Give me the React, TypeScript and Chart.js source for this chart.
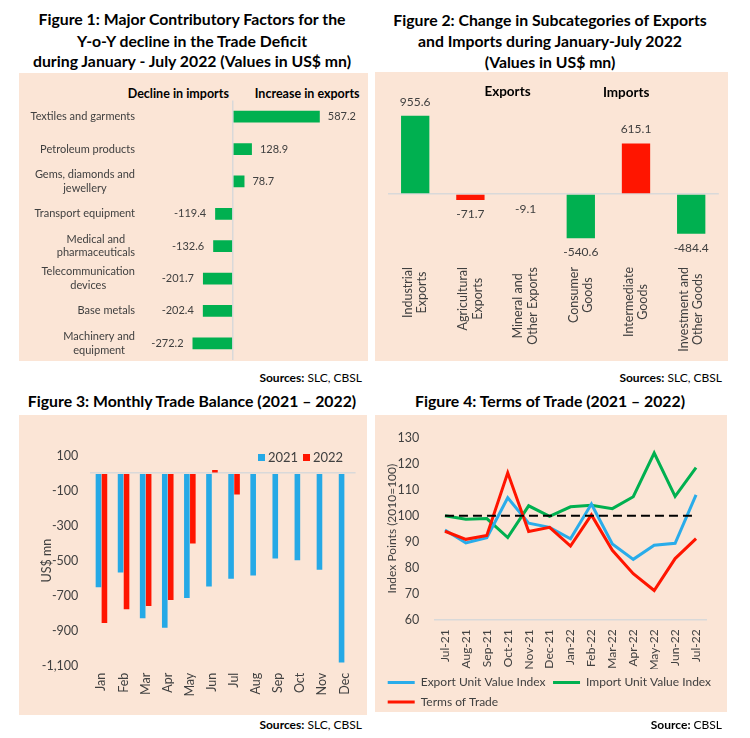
import React, { useEffect, useRef } from 'react';
import { Chart, registerables } from 'chart.js';

Chart.register(...registerables);

const FONT = 'Lato, "Noto Sans", sans-serif';
const TXT = '#404040';
const GREEN = '#00b050';
const RED = '#ff1500';
const BLUE = '#25a9e6';
const PEACH = '#fbe5d6';
const GRID = '#d9d9d9';
const CLEAR = 'rgba(0,0,0,0)';

Chart.defaults.font.family = FONT;
Chart.defaults.color = TXT;

// ---------- Figure 1 data ----------
const fig1Categories: (string | string[])[] = [
  'Textiles and garments',
  'Petroleum products',
  ['Gems, diamonds and', 'jewellery'],
  'Transport equipment',
  ['Medical and', 'pharmaceuticals'],
  ['Telecommunication', 'devices'],
  'Base metals',
  ['Machinery and', 'equipment'],
];
const fig1Values = [587.2, 128.9, 78.7, -119.4, -132.6, -201.7, -202.4, -272.2];

// ---------- Figure 2 data ----------
const fig2Categories: string[][] = [
  ['Industrial', 'Exports'],
  ['Agricultural', 'Exports'],
  ['Mineral and', 'Other Exports'],
  ['Consumer', 'Goods'],
  ['Intermediate', 'Goods'],
  ['Investment and', 'Other Goods'],
];
const fig2Values = [955.6, -71.7, -9.1, -540.6, 615.1, -484.4];
const fig2Colors = [GREEN, RED, RED, GREEN, RED, GREEN];

// ---------- Figure 3 data ----------
const fig3Months = ['Jan', 'Feb', 'Mar', 'Apr', 'May', 'Jun', 'Jul', 'Aug', 'Sep', 'Oct', 'Nov', 'Dec'];
const fig3Balance2021 = [-652, -568, -829, -883, -713, -648, -603, -584, -488, -498, -551, -1081];
const fig3Balance2022 = [-856, -778, -759, -725, -401, 19, -121, null, null, null, null, null];
const fig3YTicks = [100, 0, -100, -300, -500, -700, -900, -1100];

// ---------- Figure 4 data ----------
const fig4Months = ['Jul-21', 'Aug-21', 'Sep-21', 'Oct-21', 'Nov-21', 'Dec-21', 'Jan-22', 'Feb-22', 'Mar-22', 'Apr-22', 'May-22', 'Jun-22', 'Jul-22'];
const fig4ExportIndex = [94.5, 89.5, 91.5, 106.9, 97.1, 95.5, 91.1, 104.5, 89.1, 83.2, 88.6, 89.4, 108.0];
const fig4ImportIndex = [100.0, 98.6, 98.9, 91.6, 103.8, 99.7, 103.4, 104.0, 102.7, 107.3, 124.1, 107.4, 118.5];
const fig4TermsOfTrade = [94.0, 90.9, 92.4, 116.5, 93.9, 95.5, 88.3, 100.3, 86.7, 77.7, 71.2, 83.5, 91.2];
const fig4BaseLine = [100, 100, 100, 100, 100, 100, 100, 100, 100, 100, 100, 100, 100];

// ---------- plugins ----------
const fig1AxisLabels = {
  id: 'fig1AxisLabels',
  afterDraw(chart: any) {
    const { ctx } = chart;
    const ys = chart.scales.y;
    ctx.save();
    ctx.font = `11px ${FONT}`;
    ctx.fillStyle = TXT;
    ctx.textAlign = 'center';
    ctx.textBaseline = 'middle';
    const right = ys.right - 6;
    fig1Categories.forEach((lab, i) => {
      const lines = Array.isArray(lab) ? lab : [lab];
      const w = Math.max(...lines.map((l) => ctx.measureText(l).width));
      const cy = ys.getPixelForValue(i);
      lines.forEach((l, j) => ctx.fillText(l, right - w / 2, cy + (j - (lines.length - 1) / 2) * 13.3));
    });
    ctx.restore();
  },
};

const fig1ValueLabels = {
  id: 'fig1ValueLabels',
  afterDatasetsDraw(chart: any) {
    const { ctx } = chart;
    const meta = chart.getDatasetMeta(0);
    ctx.save();
    ctx.font = `11px ${FONT}`;
    ctx.fillStyle = TXT;
    ctx.textBaseline = 'middle';
    meta.data.forEach((el: any, i: number) => {
      const v = fig1Values[i];
      if (v >= 0) {
        ctx.textAlign = 'left';
        ctx.fillText(v.toFixed(1), el.x + 8, el.y);
      } else {
        ctx.textAlign = 'right';
        ctx.fillText(v.toFixed(1), el.x - 9, el.y);
      }
    });
    ctx.restore();
  },
};

const fig2AxisLabels = {
  id: 'fig2AxisLabels',
  afterDraw(chart: any) {
    const { ctx } = chart;
    const xs = chart.scales.x;
    const top = chart.chartArea.bottom + 6;
    ctx.save();
    ctx.font = `12.5px ${FONT}`;
    ctx.fillStyle = TXT;
    ctx.textAlign = 'center';
    ctx.textBaseline = 'middle';
    fig2Categories.forEach((lines, i) => {
      const w = Math.max(...lines.map((l) => ctx.measureText(l).width));
      const cx = xs.getPixelForValue(i);
      ctx.save();
      ctx.translate(cx, top + w / 2);
      ctx.rotate(-Math.PI / 2);
      lines.forEach((l, j) => ctx.fillText(l, 0, (j - (lines.length - 1) / 2) * 14.4));
      ctx.restore();
    });
    ctx.restore();
  },
};

const fig2ValueLabels = {
  id: 'fig2ValueLabels',
  afterDatasetsDraw(chart: any) {
    const { ctx } = chart;
    const meta = chart.getDatasetMeta(0);
    ctx.save();
    ctx.font = `12px ${FONT}`;
    ctx.fillStyle = TXT;
    ctx.textAlign = 'center';
    ctx.textBaseline = 'middle';
    meta.data.forEach((el: any, i: number) => {
      const v = fig2Values[i];
      ctx.fillText(v.toFixed(1), el.x, v >= 0 ? el.y - 14 : el.y + 14);
    });
    ctx.restore();
  },
};

// ---------- configs ----------
function fig1Config(): any {
  return {
    type: 'bar',
    data: {
      labels: fig1Categories,
      datasets: [{ data: fig1Values, backgroundColor: GREEN, barPercentage: 0.9, categoryPercentage: 0.4 }],
    },
    options: {
      indexAxis: 'y',
      animation: false,
      responsive: true,
      maintainAspectRatio: false,
      layout: { padding: { left: 0, right: 13, top: 27.5, bottom: 1.5 } },
      plugins: { legend: { display: false }, tooltip: { enabled: false } },
      scales: {
        x: {
          type: 'linear',
          min: -620,
          max: 825,
          ticks: { display: false },
          border: { display: false },
          grid: { color: (c: any) => (c.tick && c.tick.value === 0 ? GRID : CLEAR), drawTicks: false, lineWidth: 1.5 },
          afterBuildTicks: (s: any) => { s.ticks = [{ value: 0 }]; },
          afterFit: (s: any) => { s.height = 0; },
        },
        y: {
          type: 'category',
          ticks: { display: false },
          grid: { display: false, drawTicks: false },
          border: { display: false },
          afterFit: (s: any) => { s.width = 122; },
        },
      },
    },
    plugins: [fig1AxisLabels, fig1ValueLabels],
  };
}

function fig2Config(): any {
  return {
    type: 'bar',
    data: {
      labels: fig2Categories,
      datasets: [{ data: fig2Values, backgroundColor: fig2Colors, barPercentage: 0.9, categoryPercentage: 0.57 }],
    },
    options: {
      animation: false,
      responsive: true,
      maintainAspectRatio: false,
      layout: { padding: { left: 12.6, right: 9.2, top: 20, bottom: 0 } },
      plugins: { legend: { display: false }, tooltip: { enabled: false } },
      scales: {
        x: {
          type: 'category',
          ticks: { display: false },
          grid: { display: false, drawTicks: false },
          border: { display: false },
          afterFit: (s: any) => { s.height = 100; },
        },
        y: {
          type: 'linear',
          min: -817,
          max: 1244,
          ticks: { display: false },
          border: { display: false },
          grid: { color: (c: any) => (c.tick && c.tick.value === 0 ? GRID : CLEAR), drawTicks: false, lineWidth: 1.5 },
          afterBuildTicks: (s: any) => { s.ticks = [{ value: 0 }]; },
          afterFit: (s: any) => { s.width = 0; },
        },
      },
    },
    plugins: [fig2AxisLabels, fig2ValueLabels],
  };
}

function fig3Config(): any {
  return {
    type: 'bar',
    data: {
      labels: fig3Months,
      datasets: [
        { label: '2021', data: fig3Balance2021, backgroundColor: BLUE, barPercentage: 0.94, categoryPercentage: 0.54 },
        { label: '2022', data: fig3Balance2022, backgroundColor: RED, barPercentage: 0.94, categoryPercentage: 0.54 },
      ],
    },
    options: {
      animation: false,
      responsive: true,
      maintainAspectRatio: false,
      layout: { padding: { left: 0, right: 10.6, top: 40.7, bottom: 0 } },
      plugins: { legend: { display: false }, tooltip: { enabled: false } },
      scales: {
        x: {
          type: 'category',
          ticks: { minRotation: 90, maxRotation: 90, padding: 7, autoSkip: false, font: { size: 12.5 }, color: TXT },
          grid: { display: false, drawTicks: false },
          border: { display: false },
          afterFit: (s: any) => { s.height = 49.3; },
        },
        y: {
          type: 'linear',
          min: -1100,
          max: 100,
          afterBuildTicks: (s: any) => { s.ticks = fig3YTicks.map((v) => ({ value: v })); },
          ticks: {
            autoSkip: false,
            padding: 12.1,
            font: { size: 12.5 },
            color: TXT,
            callback: (v: any) => (Number(v) === 0 ? '' : Number(v).toLocaleString('en-US')),
          },
          grid: { color: (c: any) => (c.tick && c.tick.value === 0 ? GRID : CLEAR), drawTicks: false, lineWidth: 1.5 },
          border: { display: false },
          title: { display: true, text: 'US$ mn', font: { size: 12.5 }, color: TXT, padding: { top: 20.2, bottom: 0 } },
          afterFit: (s: any) => { s.width = 71.4; },
        },
      },
    },
  };
}

function fig4Config(): any {
  const line = { borderWidth: 3, pointRadius: 0, pointHoverRadius: 0, tension: 0, fill: false };
  return {
    type: 'line',
    data: {
      labels: fig4Months,
      datasets: [
        { ...line, label: 'Export Unit Value Index', data: fig4ExportIndex, borderColor: '#29acea', backgroundColor: '#29acea', order: 2 },
        { ...line, label: 'Import Unit Value Index', data: fig4ImportIndex, borderColor: GREEN, backgroundColor: GREEN, order: 3 },
        { ...line, label: 'Terms of Trade', data: fig4TermsOfTrade, borderColor: RED, backgroundColor: RED, order: 1 },
        { ...line, label: 'Base', data: fig4BaseLine, borderColor: '#000000', backgroundColor: '#000000', borderWidth: 2, borderDash: [9, 5], order: 0 },
      ],
    },
    options: {
      animation: false,
      responsive: true,
      maintainAspectRatio: false,
      layout: { padding: { left: 5.2, right: 0, top: 17.3, bottom: 7.05 } },
      plugins: {
        tooltip: { enabled: false },
        legend: {
          position: 'bottom',
          align: 'start',
          labels: {
            usePointStyle: true,
            pointStyle: 'line',
            pointStyleWidth: 27,
            padding: 7.5,
            font: { size: 12 },
            color: TXT,
            filter: (it: any) => it.datasetIndex !== 3,
            sort: (a: any, b: any) => a.datasetIndex - b.datasetIndex,
          },
        },
      },
      scales: {
        x: {
          type: 'category',
          offset: true,
          ticks: { minRotation: 90, maxRotation: 90, padding: 9.6, autoSkip: false, font: { size: 12 }, color: TXT },
          grid: { display: false, drawTicks: false },
          border: { display: true, color: GRID, width: 1.5 },
          afterFit: (s: any) => { s.height = 49.3; },
        },
        y: {
          type: 'linear',
          min: 60,
          max: 130,
          ticks: { stepSize: 10, padding: 15.2, font: { size: 12.5 }, color: TXT },
          grid: { display: false, drawTicks: false },
          border: { display: false },
          title: { display: true, text: 'Index Points (2010=100)', font: { size: 12 }, color: TXT, padding: { top: 4.3, bottom: 0 } },
          afterFit: (s: any) => { s.width = 54.3; },
        },
        y2: {
          type: 'linear',
          position: 'right',
          ticks: { display: false },
          grid: { display: false, drawTicks: false },
          border: { display: false },
          afterFit: (s: any) => { s.width = 20.5; },
        },
      },
    },
  };
}

// ---------- components ----------
function ChartBox(props: { left: number; top: number; width: number; height: number; make: () => any }) {
  const ref = useRef<HTMLCanvasElement | null>(null);
  useEffect(() => {
    const chart = new Chart(ref.current as HTMLCanvasElement, props.make());
    return () => chart.destroy();
  }, []);
  return (
    <div style={{ position: 'absolute', left: props.left, top: props.top, width: props.width, height: props.height }}>
      <canvas ref={ref} />
    </div>
  );
}

function Txt(props: { x: number; y: number; align?: 'left' | 'center' | 'right'; size?: number; bold?: boolean; lh?: number; children: any }) {
  const align = props.align || 'center';
  const lh = props.lh || 20;
  const W = 420;
  let left = props.x;
  if (align === 'center') left = props.x - W / 2;
  if (align === 'right') left = props.x - W;
  return (
    <div
      style={{
        position: 'absolute',
        left,
        top: props.y - lh / 2,
        width: W,
        lineHeight: `${lh}px`,
        textAlign: align,
        fontSize: props.size || 12,
        fontWeight: props.bold ? 700 : 400,
        whiteSpace: 'nowrap',
        color: '#000',
      }}
    >
      {props.children}
    </div>
  );
}

function Panel(props: { left: number; top: number; width: number; height: number }) {
  return <div style={{ position: 'absolute', left: props.left, top: props.top, width: props.width, height: props.height, background: PEACH }} />;
}

export default function App() {
  const T = 15.8;
  return (
    <div style={{ position: 'absolute', left: 0, top: 0, width: 750, height: 738, background: '#fff', fontFamily: FONT, overflow: 'hidden' }}>
      {/* Figure 1 */}
      <Txt x={192} y={18.7} size={T} bold lh={21}>Figure 1: Major Contributory Factors for the</Txt>
      <Txt x={192} y={40} size={T} bold lh={21}>Y-o-Y decline in the Trade Deficit</Txt>
      <Txt x={192} y={60.7} size={T} bold lh={21}>during January - July 2022 (Values in US$ mn)</Txt>
      <Panel left={19} top={73} width={349} height={288} />
      <Txt x={178.3} y={94} size={12.5} bold>Decline in imports</Txt>
      <Txt x={307.2} y={94} size={12.5} bold>Increase in exports</Txt>
      <ChartBox left={19} top={73} width={349} height={288} make={fig1Config} />
      <Txt x={362} y={377.5} align="right" size={12}><b>Sources:</b> SLC, CBSL</Txt>

      {/* Figure 2 */}
      <Txt x={550} y={19} size={T} bold lh={21}>Figure 2: Change in Subcategories of Exports</Txt>
      <Txt x={550} y={40} size={T} bold lh={21}>and Imports during January-July 2022</Txt>
      <Txt x={550} y={61} size={T} bold lh={21}>(Values in US$ mn)</Txt>
      <Panel left={375} top={72} width={353} height={289} />
      <Txt x={507.5} y={90.7} size={13.5} bold>Exports</Txt>
      <Txt x={626.2} y={92.3} size={13.5} bold>Imports</Txt>
      <ChartBox left={375} top={72} width={353} height={289} make={fig2Config} />
      <Txt x={722} y={377.5} align="right" size={12}><b>Sources:</b> SLC, CBSL</Txt>

      {/* Figure 3 */}
      <Txt x={192} y={400.7} size={T} bold lh={21}>Figure 3: Monthly Trade Balance (2021 – 2022)</Txt>
      <Panel left={19} top={415} width={348} height={300} />
      <ChartBox left={19} top={415} width={348} height={300} make={fig3Config} />
      <div style={{ position: 'absolute', left: 258, top: 453.8, width: 7, height: 7, background: BLUE }} />
      <Txt x={268} y={457.3} align="left" size={13}><span style={{ color: TXT }}>2021</span></Txt>
      <div style={{ position: 'absolute', left: 303, top: 453.8, width: 7, height: 7, background: RED }} />
      <Txt x={313} y={457.3} align="left" size={13}><span style={{ color: TXT }}>2022</span></Txt>
      <Txt x={362} y={725} align="right" size={12}><b>Sources:</b> SLC, CBSL</Txt>

      {/* Figure 4 */}
      <Txt x={550} y={400.7} size={T} bold lh={21}>Figure 4: Terms of Trade (2021 – 2022)</Txt>
      <Panel left={375} top={415} width={352} height={297} />
      <ChartBox left={375} top={415} width={352} height={310} make={fig4Config} />
      <Txt x={722} y={725} align="right" size={12}><b>Source:</b> CBSL</Txt>
    </div>
  );
}
